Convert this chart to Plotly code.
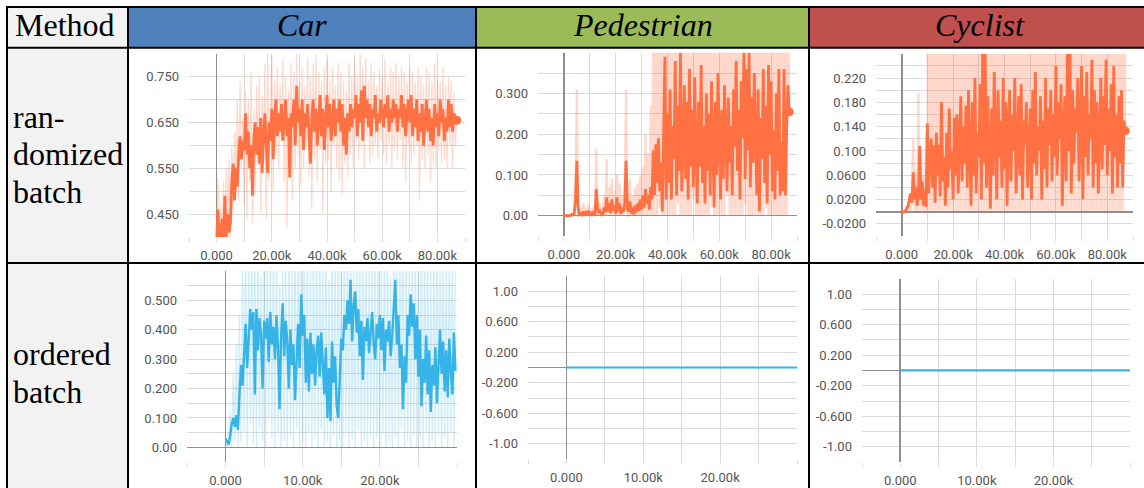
import plotly.graph_objects as go

W, H = 1144, 488

# ------------------------------------------------------------------ data
STEP_RAND = 500   # training steps between logged points, randomized-batch runs
STEP_ORD = 200    # training steps between logged points, ordered-batch runs

header_labels = ["Method", "Car", "Pedestrian", "Cyclist"]
row_labels = [["ran-", "domized", "batch"], ["ordered", "batch"]]

car_rand_smooth = [
    0.39, 0.46, 0.39, 0.40, 0.44, 0.39, 0.49, 0.40, 0.45, 0.41,
    0.43, 0.52, 0.56, 0.48, 0.55, 0.51, 0.58, 0.62, 0.57, 0.61,
    0.59, 0.67, 0.58, 0.63, 0.55, 0.60, 0.49, 0.62, 0.65, 0.58,
    0.64, 0.56, 0.66, 0.54, 0.62, 0.67, 0.60, 0.54, 0.65, 0.61,
    0.68, 0.57, 0.66, 0.70, 0.62, 0.67, 0.63, 0.69, 0.61, 0.66,
    0.70, 0.62, 0.66, 0.53, 0.67, 0.64, 0.70, 0.60, 0.73, 0.65,
    0.68, 0.62, 0.70, 0.59, 0.67, 0.64, 0.69, 0.62, 0.56, 0.66,
    0.70, 0.63, 0.68, 0.60, 0.66, 0.71, 0.62, 0.68, 0.59, 0.67,
    0.71, 0.64, 0.69, 0.61, 0.66, 0.70, 0.62, 0.68, 0.65, 0.70,
    0.63, 0.69, 0.60, 0.66, 0.58, 0.67, 0.63, 0.69, 0.64, 0.68,
    0.66, 0.71, 0.62, 0.69, 0.65, 0.72, 0.61, 0.73, 0.66, 0.70,
    0.64, 0.69, 0.62, 0.68, 0.66, 0.71, 0.63, 0.67, 0.65, 0.70,
    0.67, 0.64, 0.69, 0.66, 0.71, 0.63, 0.68, 0.65, 0.70, 0.66,
    0.69, 0.63, 0.68, 0.66, 0.71, 0.64, 0.69, 0.62, 0.67, 0.70,
    0.65, 0.71, 0.62, 0.68, 0.64, 0.70, 0.61, 0.67, 0.63, 0.69,
    0.60, 0.66, 0.70, 0.63, 0.68, 0.61, 0.66, 0.60, 0.69, 0.64,
    0.67, 0.62, 0.70, 0.65, 0.68, 0.61, 0.66, 0.63, 0.70, 0.64,
    0.69, 0.63, 0.67, 0.66, 0.655,
]
car_rand_raw = [
    0.39, 0.53, 0.39, 0.47, 0.39, 0.52, 0.39, 0.55, 0.42, 0.57,
    0.40, 0.60, 0.45, 0.63, 0.50, 0.70, 0.48, 0.74, 0.55, 0.66,
    0.47, 0.72, 0.44, 0.70, 0.52, 0.76, 0.43, 0.68, 0.49, 0.73,
    0.58, 0.75, 0.45, 0.71, 0.56, 0.78, 0.44, 0.80, 0.52, 0.69,
    0.80, 0.50, 0.74, 0.58, 0.77, 0.55, 0.73, 0.61, 0.79, 0.52,
    0.75, 0.42, 0.72, 0.57, 0.78, 0.48, 0.76, 0.55, 0.80, 0.58,
    0.74, 0.51, 0.77, 0.55, 0.73, 0.60, 0.79, 0.53, 0.75, 0.46,
    0.78, 0.57, 0.80, 0.52, 0.76, 0.59, 0.74, 0.45, 0.77, 0.56,
    0.79, 0.57, 0.74, 0.50, 0.77, 0.60, 0.73, 0.55, 0.78, 0.52,
    0.76, 0.49, 0.74, 0.56, 0.72, 0.53, 0.78, 0.58, 0.75, 0.55,
    0.79, 0.60, 0.75, 0.57, 0.80, 0.59, 0.77, 0.55, 0.79, 0.62,
    0.74, 0.56, 0.78, 0.58, 0.76, 0.60, 0.73, 0.57, 0.77, 0.61,
    0.75, 0.58, 0.79, 0.56, 0.74, 0.60, 0.77, 0.55, 0.76, 0.59,
    0.78, 0.57, 0.75, 0.61, 0.77, 0.55, 0.76, 0.52, 0.74, 0.60,
    0.77, 0.56, 0.76, 0.58, 0.74, 0.60, 0.77, 0.48, 0.75, 0.57,
    0.73, 0.55, 0.77, 0.58, 0.76, 0.52, 0.74, 0.56, 0.78, 0.55,
    0.75, 0.59, 0.74, 0.56, 0.77, 0.57, 0.73, 0.55, 0.75, 0.60,
    0.74, 0.55, 0.72, 0.60, 0.66,
]

ped_rand_smooth = [
    0.0, 0.0, 0.0, 0.0, 0.0, 0.0, 0.003, 0.002, 0.005, 0.04,
    0.135, 0.02, 0.003, 0.005, 0.002, 0.01, 0.004, 0.008, 0.003, 0.012,
    0.005, 0.003, 0.008, 0.004, 0.002, 0.065, 0.02, 0.006, 0.01, 0.004,
    0.003, 0.02, 0.008, 0.045, 0.01, 0.03, 0.006, 0.04, 0.012, 0.025,
    0.005, 0.045, 0.01, 0.03, 0.004, 0.02, 0.008, 0.03, 0.135, 0.015,
    0.01, 0.035, 0.005, 0.02, 0.003, 0.025, 0.008, 0.03, 0.012, 0.04,
    0.015, 0.05, 0.02, 0.065, 0.03, 0.05, 0.015, 0.07, 0.04, 0.16,
    0.05, 0.175, 0.08, 0.19, 0.06, 0.13, 0.01, 0.20, 0.39, 0.04,
    0.25, 0.08, 0.31, 0.04, 0.22, 0.14, 0.38, 0.05, 0.27, 0.11,
    0.40, 0.06, 0.23, 0.32, 0.09, 0.28, 0.04, 0.36, 0.12, 0.26,
    0.07, 0.34, 0.16, 0.03, 0.28, 0.12, 0.37, 0.08, 0.22, 0.03,
    0.30, 0.11, 0.25, 0.05, 0.33, 0.16, 0.02, 0.28, 0.10, 0.35,
    0.14, 0.04, 0.26, 0.09, 0.32, 0.18, 0.06, 0.29, 0.13, 0.22,
    0.05, 0.31, 0.17, 0.38, 0.11, 0.26, 0.04, 0.33, 0.19, 0.40,
    0.09, 0.36, 0.16, 0.40, 0.07, 0.29, 0.13, 0.35, 0.22, 0.05,
    0.31, 0.01, 0.24, 0.14, 0.36, 0.08, 0.27, 0.03, 0.37, 0.15,
    0.33, 0.06, 0.21, 0.04, 0.30, 0.11, 0.36, 0.05, 0.18, 0.06,
    0.36, 0.05, 0.21, 0.32, 0.255,
]
ped_rand_raw = [
    0, 0, 0, 0, 0, 0, 0, 0, 0.01, 0.08,
    0.31, 0, 0, 0.02, 0, 0.03, 0, 0.02, 0, 0.03,
    0, 0, 0.02, 0, 0, 0.165, 0, 0.01, 0.03, 0,
    0, 0.05, 0, 0.14, 0, 0.07, 0, 0.09, 0, 0.06,
    0, 0.10, 0, 0.08, 0, 0.05, 0, 0.07, 0.31, 0,
    0, 0.09, 0, 0.05, 0, 0.07, 0, 0.08, 0, 0.10,
    0, 0.12, 0, 0.20, 0, 0.15, 0, 0.27, 0, 0.45,
    0, 1, 0, 1, 0.02, 1, 0, 0.67, 0, 1,
    0, 1, 0, 0.5, 0, 1, 0, 1, 0.03, 1,
    0, 1, 0, 1, 0, 0.5, 0, 1, 0, 1,
    0.04, 1, 0, 1, 0, 1, 0, 0.67, 0, 1,
    0, 1, 0, 1, 0.02, 1, 0, 1, 0, 0.5,
    0, 1, 0, 1, 0, 1, 0.05, 1, 0, 1,
    0, 0.67, 0, 1, 0, 1, 0, 1, 0, 1,
    0.03, 1, 0, 1, 0, 0.5, 0, 1, 0, 1,
    0, 1, 0, 1, 0, 1, 0.02, 1, 0, 1,
    0, 1, 0, 0.67, 0, 1, 0, 1, 0, 1,
    0, 1, 0, 1, 0.25,
]

cyc_rand_smooth = [
    0.0, 0.0, 0.0, 0.002, 0.005, 0.01, 0.02, 0.03, 0.015, 0.065,
    0.02, 0.04, 0.01, 0.03, 0.108, 0.02, 0.05, 0.01, 0.035, 0.008,
    0.145, 0.03, 0.09, 0.12, 0.04, 0.11, 0.015, 0.13, 0.06, 0.11,
    0.025, 0.18, 0.05, 0.09, 0.01, 0.13, 0.04, 0.17, 0.07, 0.10,
    0.02, 0.155, 0.06, 0.16, 0.03, 0.12, 0.19, 0.05, 0.14, 0.08,
    0.175, 0.04, 0.20, 0.10, 0.01, 0.18, 0.06, 0.22, 0.03, 0.13,
    0.09, 0.21, 0.02, 0.26, 0.08, 0.26, 0.04, 0.19, 0.11, 0.005,
    0.17, 0.06, 0.23, 0.12, 0.02, 0.20, 0.09, 0.15, 0.04, 0.22,
    0.07, 0.18, 0.01, 0.14, 0.20, 0.05, 0.16, 0.10, 0.22, 0.03,
    0.13, 0.19, 0.06, 0.21, 0.02, 0.15, 0.11, 0.18, 0.04, 0.12,
    0.17, 0.02, 0.20, 0.08, 0.23, 0.06, 0.14, 0.10, 0.19, 0.02,
    0.15, 0.07, 0.22, 0.04, 0.17, 0.11, 0.20, 0.05, 0.16, 0.09,
    0.24, 0.06, 0.18, 0.12, 0.21, 0.01, 0.14, 0.19, 0.05, 0.26,
    0.10, 0.26, 0.03, 0.20, 0.08, 0.17, 0.13, 0.22, 0.05, 0.15,
    0.24, 0.02, 0.19, 0.09, 0.23, 0.06, 0.16, 0.12, 0.25, 0.04,
    0.20, 0.08, 0.18, 0.03, 0.15, 0.22, 0.07, 0.19, 0.11, 0.25,
    0.06, 0.17, 0.10, 0.21, 0.03, 0.24, 0.09, 0.16, 0.04, 0.19,
    0.08, 0.20, 0.04, 0.15, 0.133,
]
cyc_rand_raw = [
    0, 0, 0, 0, 0.01, 0, 0.03, 0, 0.05, 0.12,
    0, 0.07, 0, 0.195, 0, 0.10, 0, 0.06, 0, 0.13,
    0, 1, 0, 0.5, 0, 1, 0, 1, 0, 0.33,
    0, 1, 0, 1, 0, 0.5, 0, 1, 0, 1,
    0, 1, 0, 0.5, 0, 1, 0, 1, 0, 1,
    0, 0.5, 0, 1, 0, 1, 0, 1, 0, 1,
    0, 1, 0, 1, 0, 1, 0, 0.5, 0, 1,
    0, 1, 0, 1, 0, 0.33, 0, 1, 0, 1,
    0, 1, 0, 1, 0, 1, 0, 0.5, 0, 1,
    0, 0.5, 0, 1, 0, 1, 0, 1, 0, 1,
    0, 1, 0, 1, 0, 0.5, 0, 1, 0, 1,
    0, 1, 0, 0.5, 0, 1, 0, 1, 0, 1,
    0, 1, 0, 1, 0, 1, 0, 0.5, 0, 1,
    0, 1, 0, 1, 0, 0.5, 0, 1, 0, 1,
    0, 0.5, 0, 1, 0, 1, 0, 1, 0, 1,
    0, 1, 0, 1, 0, 0.5, 0, 1, 0, 1,
    0, 1, 0, 0.5, 0, 1, 0, 1, 0, 1,
    0, 1, 0, 1, 0.13,
]

car_ord_smooth = [
    0.03, 0.02, 0.01, 0.04, 0.08, 0.10, 0.07, 0.11, 0.06, 0.18,
    0.28, 0.21, 0.30, 0.42, 0.27, 0.36, 0.47, 0.40, 0.46, 0.18,
    0.47, 0.33, 0.44, 0.38, 0.20, 0.43, 0.37, 0.44, 0.29, 0.46,
    0.35, 0.41, 0.30, 0.45, 0.33, 0.13, 0.38, 0.49, 0.31, 0.43,
    0.36, 0.20, 0.40, 0.28, 0.35, 0.16, 0.33, 0.42, 0.27, 0.52,
    0.38, 0.45, 0.22, 0.37, 0.19, 0.39, 0.25, 0.35, 0.21, 0.33,
    0.38, 0.24, 0.39, 0.30, 0.18, 0.34, 0.10, 0.27, 0.09, 0.36,
    0.22, 0.31, 0.14, 0.10, 0.25, 0.37, 0.33, 0.45, 0.40, 0.50,
    0.42, 0.57, 0.36, 0.48, 0.53, 0.39, 0.47, 0.31, 0.43, 0.23,
    0.41, 0.36, 0.44, 0.32, 0.39, 0.46, 0.35, 0.30, 0.42, 0.37,
    0.45, 0.33, 0.44, 0.26, 0.40, 0.36, 0.43, 0.31, 0.38, 0.48,
    0.57, 0.35, 0.45, 0.27, 0.35, 0.13, 0.31, 0.22, 0.45, 0.38,
    0.52, 0.41, 0.49, 0.30, 0.45, 0.24, 0.40, 0.14, 0.30, 0.22,
    0.38, 0.18, 0.33, 0.12, 0.28, 0.21, 0.34, 0.15, 0.29, 0.40,
    0.25, 0.36, 0.19, 0.33, 0.17, 0.37, 0.26, 0.18, 0.39, 0.26,
]
car_ord_raw = [
    0.03, 0.0, 0.05, 0.12, 0.0, 0.25, 0.02, 0.35, 0.0, 0.45,
    0.02, 0.62, 0.05, 0.70, 0.0, 0.65, 0.08, 0.70, 0.01, 0.66,
    0.0, 0.70, 0.06, 0.58, 0.02, 0.70, 0.0, 0.64, 0.10, 0.70,
    0.03, 0.70, 0.0, 0.68, 0.05, 0.55, 0.0, 0.70, 0.02, 0.66,
    0.0, 0.70, 0.04, 0.62, 0.0, 0.70, 0.07, 0.69, 0.0, 0.70,
    0.02, 0.66, 0.0, 0.70, 0.05, 0.60, 0.0, 0.70, 0.03, 0.68,
    0.0, 0.70, 0.06, 0.64, 0.0, 0.70, 0.02, 0.57, 0.0, 0.70,
    0.04, 0.68, 0.0, 0.70, 0.02, 0.63, 0.0, 0.70, 0.05, 0.70,
    0.0, 0.70, 0.03, 0.66, 0.0, 0.70, 0.06, 0.70, 0.0, 0.65,
    0.02, 0.70, 0.0, 0.60, 0.04, 0.70, 0.0, 0.68, 0.03, 0.70,
    0.0, 0.64, 0.05, 0.70, 0.0, 0.70, 0.02, 0.58, 0.0, 0.70,
    0.03, 0.70, 0.0, 0.66, 0.06, 0.70, 0.0, 0.70, 0.02, 0.62,
    0.0, 0.70, 0.04, 0.70, 0.0, 0.65, 0.03, 0.70, 0.0, 0.69,
    0.05, 0.70, 0.0, 0.61, 0.02, 0.70, 0.0, 0.70, 0.04, 0.66,
    0.0, 0.70, 0.03, 0.68, 0.0, 0.70, 0.05, 0.63, 0.0, 0.70,
]

flat_steps = [0, 30000]
ped_ord_values = [0.0, 0.0]
cyc_ord_values = [0.0, 0.0]

# tick labels
rand_xtick_vals = [0, 20000, 40000, 60000, 80000]
rand_xtick_text = ["0.000", "20.00k", "40.00k", "60.00k", "80.00k"]
ord_xtick_vals = [0, 10000, 20000]
ord_xtick_text = ["0.000", "10.00k", "20.00k"]
car_rand_ytick_vals = [0.45, 0.55, 0.65, 0.75]
car_rand_ytick_text = ["0.450", "0.550", "0.650", "0.750"]
ped_rand_ytick_vals = [0.0, 0.1, 0.2, 0.3]
ped_rand_ytick_text = ["0.00", "0.100", "0.200", "0.300"]
cyc_rand_ytick_vals = [-0.02, 0.02, 0.06, 0.10, 0.14, 0.18, 0.22]
cyc_rand_ytick_text = ["-0.0200", "0.0200", "0.0600", "0.100", "0.140", "0.180", "0.220"]
car_ord_ytick_vals = [0.0, 0.1, 0.2, 0.3, 0.4, 0.5]
car_ord_ytick_text = ["0.00", "0.100", "0.200", "0.300", "0.400", "0.500"]
flat_ytick_vals = [1.0, 0.6, 0.2, -0.2, -0.6, -1.0]
flat_ytick_text = ["1.00", "0.600", "0.200", "-0.200", "-0.600", "-1.00"]

# ------------------------------------------------------------------ style
ORANGE = "#ff7043"
ORANGE_LIGHT = "rgba(255,112,67,0.28)"
BLUE = "#36b4e8"
BLUE_LIGHT = "rgba(54,180,232,0.24)"
GRID = "#dadada"
ZERO = "#8f8f8f"
TICKFONT = dict(family="Roboto, Arial, sans-serif", size=13, color="#555555")
SERIF = "Liberation Serif, Times New Roman, serif"


def px(x):
    return x / W


def py(y):
    return 1 - y / H


def steps(n, step):
    return [i * step for i in range(n)]


panels = [
    dict(box=(189, 54, 465, 238), xr=(-10000, 90000), yr=(0.40, 0.80), xg=10000, yg=0.05,
         xt=(rand_xtick_vals, rand_xtick_text), yt=(car_rand_ytick_vals, car_rand_ytick_text),
         series=[(steps(len(car_rand_raw), STEP_RAND), car_rand_raw, ORANGE_LIGHT, 1.2),
                 (steps(len(car_rand_smooth), STEP_RAND), car_rand_smooth, ORANGE, 2.8)],
         dot=ORANGE),
    dict(box=(538, 53, 797, 237), xr=(-10000, 90000), yr=(-0.05, 0.40), xg=10000, yg=0.05,
         xt=(rand_xtick_vals, rand_xtick_text), yt=(ped_rand_ytick_vals, ped_rand_ytick_text),
         series=[(steps(len(ped_rand_raw), STEP_RAND), ped_rand_raw, ORANGE_LIGHT, 2.2),
                 (steps(len(ped_rand_smooth), STEP_RAND), ped_rand_smooth, ORANGE, 2.8)],
         dot=ORANGE),
    dict(box=(876, 54, 1133, 237), xr=(-10000, 90000), yr=(-0.04, 0.26), xg=10000, yg=0.02,
         xt=(rand_xtick_vals, rand_xtick_text), yt=(cyc_rand_ytick_vals, cyc_rand_ytick_text),
         series=[(steps(len(cyc_rand_raw), STEP_RAND), cyc_rand_raw, ORANGE_LIGHT, 2.2),
                 (steps(len(cyc_rand_smooth), STEP_RAND), cyc_rand_smooth, ORANGE, 2.8)],
         dot=ORANGE),
    dict(box=(187, 272, 457, 464), xr=(-5000, 30000), yr=(-0.05, 0.60), xg=5000, yg=0.05,
         xt=(ord_xtick_vals, ord_xtick_text), yt=(car_ord_ytick_vals, car_ord_ytick_text),
         series=[(steps(len(car_ord_raw), STEP_ORD), car_ord_raw, BLUE_LIGHT, 1.3),
                 (steps(len(car_ord_smooth), STEP_ORD), car_ord_smooth, BLUE, 2.4)],
         dot=None),
    dict(box=(528, 277, 797, 461), xr=(-5000, 30000), yr=(-1.2, 1.2), xg=5000, yg=0.2,
         xt=(ord_xtick_vals, ord_xtick_text), yt=(flat_ytick_vals, flat_ytick_text),
         series=[(flat_steps, ped_ord_values, BLUE, 2.2)], dot=None),
    dict(box=(862, 280, 1130, 464), xr=(-5000, 30000), yr=(-1.2, 1.2), xg=5000, yg=0.2,
         xt=(ord_xtick_vals, ord_xtick_text), yt=(flat_ytick_vals, flat_ytick_text),
         series=[(flat_steps, cyc_ord_values, BLUE, 2.2)], dot=None),
]

fig = go.Figure()
layout = dict(
    width=W, height=H, margin=dict(l=0, r=0, t=0, b=0, pad=0),
    paper_bgcolor="white", plot_bgcolor="rgba(0,0,0,0)", showlegend=False,
    hovermode=False,
)

for i, p in enumerate(panels, start=1):
    sx = "" if i == 1 else str(i)
    x0, y0, x1, y1 = p["box"]
    layout["xaxis" + sx] = dict(
        domain=[px(x0), px(x1)], range=list(p["xr"]), anchor="y" + sx,
        tickmode="array", tickvals=p["xt"][0], ticktext=p["xt"][1],
        showgrid=True, gridcolor=GRID, gridwidth=1,
        zeroline=True, zerolinecolor=ZERO, zerolinewidth=1.6,
        showline=False, ticks="outside", ticklen=4, tickcolor=GRID,
        tickfont=TICKFONT, ticklabelstandoff=2,
        minor=dict(tickmode="linear", tick0=0, dtick=p["xg"], showgrid=True,
                   gridcolor=GRID, gridwidth=1, ticks="outside", ticklen=4, tickcolor=GRID),
        fixedrange=True,
    )
    layout["yaxis" + sx] = dict(
        domain=[py(y1), py(y0)], range=list(p["yr"]), anchor="x" + sx,
        tickmode="array", tickvals=p["yt"][0], ticktext=p["yt"][1],
        showgrid=True, gridcolor=GRID, gridwidth=1,
        zeroline=True, zerolinecolor=ZERO, zerolinewidth=1.6,
        showline=False, ticks="", tickfont=TICKFONT, ticklabelstandoff=9,
        minor=dict(tickmode="linear", tick0=0, dtick=p["yg"], showgrid=True,
                   gridcolor=GRID, gridwidth=1),
        fixedrange=True,
    )
    for xs, ys, col, wd in p["series"]:
        fig.add_trace(go.Scatter(x=xs, y=ys, mode="lines", line=dict(color=col, width=wd),
                                 xaxis="x" + sx, yaxis="y" + sx, hoverinfo="skip"))
    if p["dot"]:
        xs, ys, _, _ = p["series"][-1]
        fig.add_trace(go.Scatter(x=[xs[-1]], y=[ys[-1]], mode="markers",
                                 marker=dict(color=p["dot"], size=9),
                                 xaxis="x" + sx, yaxis="y" + sx, hoverinfo="skip"))

# ------------------------------------------------------------------ table
TOP, HEAD_B, ROW_B, BOT = 7, 48, 264, 490
COLS = [7, 128, 476, 809, 1146]
header_fills = ["#f2f2f2", "#4f81bd", "#9bbb59", "#c0504d"]

shapes = []
for j, fill in enumerate(header_fills):
    shapes.append(dict(type="rect", xref="paper", yref="paper", layer="below",
                       x0=px(COLS[j]), x1=px(COLS[j + 1]), y0=py(HEAD_B), y1=py(TOP),
                       fillcolor=fill, line=dict(width=0)))
shapes.append(dict(type="rect", xref="paper", yref="paper", layer="below",
                   x0=px(COLS[0]), x1=px(COLS[1]), y0=py(BOT), y1=py(HEAD_B),
                   fillcolor="#f2f2f2", line=dict(width=0)))
for yy in (TOP, HEAD_B, ROW_B):
    shapes.append(dict(type="line", xref="paper", yref="paper", layer="above",
                       x0=px(COLS[0] - 1), x1=px(COLS[-1]), y0=py(yy), y1=py(yy),
                       line=dict(color="black", width=2)))
for xx in COLS[:-1]:
    shapes.append(dict(type="line", xref="paper", yref="paper", layer="above",
                       x0=px(xx), x1=px(xx), y0=py(BOT), y1=py(TOP - 1),
                       line=dict(color="black", width=2)))
layout["shapes"] = shapes

annotations = []
header_x = [65, 302, 643, 980]
for j, (lab, xc) in enumerate(zip(header_labels, header_x)):
    txt = lab if j == 0 else "<i>%s</i>" % lab
    annotations.append(dict(text=txt, x=px(xc), y=py(25), xref="paper", yref="paper",
                            xanchor="center", yanchor="middle", showarrow=False,
                            font=dict(family=SERIF, size=32, color="black")))
row_line_y = [[117, 155, 193], [355, 394]]
for lines, ys in zip(row_labels, row_line_y):
    for t, yc in zip(lines, ys):
        annotations.append(dict(text=t, x=px(11), y=py(yc), xref="paper", yref="paper",
                                xanchor="left", yanchor="middle", showarrow=False,
                                font=dict(family=SERIF, size=32, color="black")))
layout["annotations"] = annotations

fig.update_layout(**layout)
fig.write_html("out.html", config={"displayModeBar": False, "staticPlot": True})
